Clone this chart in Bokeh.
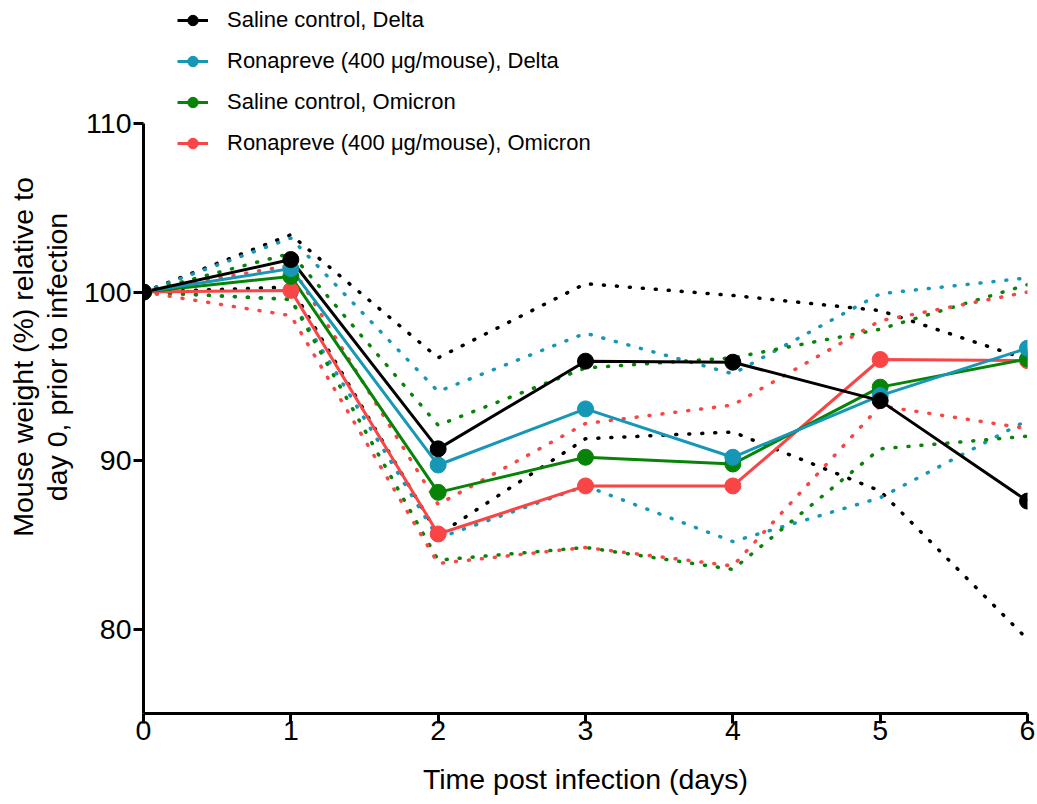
from bokeh.plotting import figure
from bokeh.models import Range1d, FixedTicker, Legend, LegendItem
from bokeh.embed import file_html
from bokeh.resources import INLINE

days = [0, 1, 2, 3, 4, 5, 6]

delta_saline_mean = [100, 101.93, 90.7, 95.9, 95.84, 93.56, 87.6]
delta_saline_upper = [100, 103.4, 96.1, 100.5, 99.8, 98.9, 96.0]
delta_saline_lower = [100, 100.3, 85.6, 91.3, 91.7, 88.2, 79.4]

delta_ron_mean = [100, 101.39, 89.74, 93.07, 90.2, 93.86, 96.67]
delta_ron_upper = [100, 103.2, 94.1, 97.56, 95.15, 99.9, 100.84]
delta_ron_lower = [100, 99.57, 85.4, 88.5, 85.2, 87.8, 92.4]

omi_saline_mean = [100, 100.93, 88.12, 90.2, 89.8, 94.36, 96.03]
omi_saline_upper = [100, 102.3, 92.1, 95.5, 96.1, 97.8, 100.44]
omi_saline_lower = [100, 99.56, 84.1, 84.85, 83.55, 90.7, 91.45]

omi_ron_mean = [100, 100.1, 85.65, 88.5, 88.5, 96.0, 95.93]
omi_ron_upper = [100, 101.6, 87.4, 92.2, 93.3, 98.3, 100.0]
omi_ron_lower = [100, 98.6, 83.9, 84.85, 83.75, 93.25, 91.9]

y_ticks = [80, 90, 100, 110]

labels = [
    "Saline control, Delta",
    "Ronapreve (400 \u03bcg/mouse), Delta",
    "Saline control, Omicron",
    "Ronapreve (400 \u03bcg/mouse), Omicron",
]
colors = ["#000000", "#1597b5", "#078407", "#f94545"]
means = [delta_saline_mean, delta_ron_mean, omi_saline_mean, omi_ron_mean]
uppers = [delta_saline_upper, delta_ron_upper, omi_saline_upper, omi_ron_upper]
lowers = [delta_saline_lower, delta_ron_lower, omi_saline_lower, omi_ron_lower]

FONT = "Liberation Sans"
W, H = 1037, 804
ML, MR, MT, MB = 143, 10, 0, 91
frame_h = H - MT - MB            # 713 px
px_per_unit = 590 / 35.0         # axis 75..110 spans 590 px
y_top = 110 + 123 / px_per_unit  # frame extends above the axis to hold legend

p = figure(width=W, height=H, output_backend="svg", toolbar_location=None,
           x_range=Range1d(0, 6), y_range=Range1d(75, y_top),
           min_border_left=ML, min_border_right=MR, min_border_top=MT, min_border_bottom=MB)
p.outline_line_color = None
p.grid.visible = False
p.background_fill_color = "white"

# dotted bounds (mean +/- SD)
for c, up, lo in zip(colors, uppers, lowers):
    for arr in (up, lo):
        p.line(days, arr, line_color=c, line_width=3.5, line_dash="1 12", line_cap="round")

line_r = {}
for i in [3, 2, 1, 0]:
    line_r[i] = p.line(days, means[i], line_color=colors[i], line_width=3)
mark_r = {}
for i in [3, 2, 1, 0]:
    mark_r[i] = p.scatter(days, means[i], size=16, fill_color=colors[i], line_color=colors[i])

items = [LegendItem(label=labels[i], renderers=[line_r[i], mark_r[i]]) for i in range(4)]
GH, SP = 26, 15
leg_h = 4 * GH + 3 * SP
legend = Legend(items=items, orientation="vertical",
                label_text_font=FONT, label_text_font_size="22px", label_text_color="black",
                glyph_width=31, glyph_height=GH, label_height=GH, spacing=SP,
                padding=0, margin=0, border_line_color=None, background_fill_alpha=0,
                label_standoff=19)
legend.location = (34, frame_h - 7 - leg_h)
p.add_layout(legend, "center")

for ax in (p.xaxis[0], p.yaxis[0]):
    ax.axis_line_width = 3
    ax.major_tick_line_width = 3
    ax.major_tick_out = 10
    ax.major_tick_in = 0
    ax.minor_tick_line_color = None
    ax.major_label_text_font = FONT
    ax.major_label_text_font_size = "28.5px"
    ax.major_label_text_color = "black"
    ax.axis_label_text_font = FONT
    ax.axis_label_text_font_size = "28.5px"
    ax.axis_label_text_font_style = "normal"
    ax.axis_label_text_color = "black"

p.yaxis.bounds = (75, 110)
p.xaxis.ticker = FixedTicker(ticks=days)
p.yaxis.ticker = FixedTicker(ticks=y_ticks)
p.xaxis.axis_label = "Time post infection (days)"
p.yaxis.axis_label = "Mouse weight (%) relative to\nday 0, prior to infection"
p.yaxis.axis_label_text_line_height = 1.07
p.xaxis.major_label_standoff = -3
p.yaxis.major_label_standoff = 2
p.xaxis.axis_label_standoff = 20
p.yaxis.axis_label_standoff = 8

open("out.html", "w").write(file_html(p, INLINE))
